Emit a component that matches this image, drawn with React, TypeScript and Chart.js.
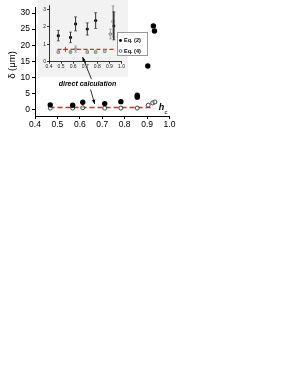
import React, { useEffect, useRef } from "react";
import { Chart, registerables } from "chart.js";
Chart.register(...registerables);

// ---- main plot data ----
const xTicks = [0.4, 0.5, 0.6, 0.7, 0.8, 0.9, 1.0];
const yTicks = [0, 5, 10, 15, 20, 25, 30];
const eq2X = [0.468, 0.568, 0.613, 0.711, 0.783, 0.856, 0.856, 0.903, 0.928, 0.933];
const eq2Y = [1.4, 1.3, 2.2, 1.8, 2.4, 3.8, 4.4, 13.5, 26.0, 24.4];
const eq4X = [0.468, 0.568, 0.613, 0.711, 0.783, 0.856, 0.905, 0.925, 0.935];
const eq4Y = [0.4, 0.4, 0.5, 0.4, 0.4, 0.4, 1.3, 2.0, 2.3];
const directX = [0.465, 0.915];
const directY = [0.6, 0.6];

// ---- inset data ----
const insetXTicks = [0.4, 0.5, 0.6, 0.7, 0.8, 0.9, 1.0];
const insetYTicks = [0, 1, 2, 3];
const insetEq2X = [0.477, 0.578, 0.62, 0.717, 0.786, 0.936];
const insetEq2Y = [1.49, 1.39, 2.16, 1.87, 2.35, 2.05];
const insetEq2Err = [0.3, 0.3, 0.4, 0.35, 0.45, 0.8];
const insetEq4X = [0.477, 0.578, 0.62, 0.717, 0.786, 0.861, 0.908, 0.93];
const insetEq4Y = [0.55, 0.55, 0.72, 0.55, 0.55, 0.6, 1.58, 2.3];
const insetEq4Err = [0.08, 0.08, 0.18, 0.08, 0.08, 0.08, 0.28, 0.9];
const insetDirectX = [0.47, 0.945];
const insetDirectY = [0.7, 0.7];
const insetCrossX = [0.536];
const insetCrossY = [0.7];

const FAMILY = "'Liberation Sans', Arial, sans-serif";

const pts = (xs: number[], ys: number[]) => xs.map((x, i) => ({ x, y: ys[i] }));

function drawArrow(ctx: CanvasRenderingContext2D, x1: number, y1: number, x2: number, y2: number) {
  ctx.beginPath();
  ctx.moveTo(x1, y1);
  ctx.lineTo(x2, y2);
  ctx.stroke();
  const a = Math.atan2(y2 - y1, x2 - x1);
  const L = 4.5, s = 0.38;
  ctx.beginPath();
  ctx.moveTo(x2, y2);
  ctx.lineTo(x2 - L * Math.cos(a - s), y2 - L * Math.sin(a - s));
  ctx.lineTo(x2 - L * Math.cos(a + s), y2 - L * Math.sin(a + s));
  ctx.closePath();
  ctx.fill();
}

const mainDecor = {
  id: "mainDecor",
  beforeDraw(chart: any) {
    const ctx = chart.ctx;
    ctx.save();
    ctx.fillStyle = "#f2f2f2";
    ctx.fillRect(38, 0, 90, 77);
    ctx.restore();
  },
  afterDraw(chart: any) {
    const ctx: CanvasRenderingContext2D = chart.ctx;
    const xs = chart.scales.x, ys = chart.scales.y;
    const px = (v: number) => xs.getPixelForValue(v);
    const py = (v: number) => ys.getPixelForValue(v);
    ctx.save();
    ctx.fillStyle = "#000";
    ctx.font = `9.5px ${FAMILY}`;
    ctx.textAlign = "center";
    ctx.textBaseline = "middle";
    ctx.translate(12, 65);
    ctx.rotate(-Math.PI / 2);
    ctx.fillText("δ (μm)", 0, 0);
    ctx.restore();

    ctx.save();
    ctx.fillStyle = "#000";
    ctx.font = `italic bold 9px ${FAMILY}`;
    ctx.textAlign = "center";
    ctx.textBaseline = "middle";
    ctx.fillText("h", 161.5, 108);
    ctx.font = `6px ${FAMILY}`;
    ctx.fillText("c", 166, 112);

    ctx.font = `italic bold 7px ${FAMILY}`;
    ctx.fillText("direct calculation", px(0.634), py(7.8));
    ctx.strokeStyle = "#000";
    ctx.fillStyle = "#000";
    ctx.lineWidth = 0.8;
    drawArrow(ctx, px(0.652), py(9.4), px(0.612), py(16.3));
    drawArrow(ctx, px(0.648), py(6.2), px(0.666), py(1.7));

    ctx.fillStyle = "#fff";
    ctx.fillRect(117, 32, 31, 24);
    ctx.strokeStyle = "#999";
    ctx.lineWidth = 1;
    ctx.strokeRect(117.5, 32.5, 30, 23);
    ctx.fillStyle = "#000";
    ctx.beginPath();
    ctx.arc(120.5, 40.5, 1.4, 0, Math.PI * 2);
    ctx.fill();
    ctx.strokeStyle = "#444";
    ctx.lineWidth = 0.8;
    ctx.beginPath();
    ctx.arc(120.5, 51, 1.4, 0, Math.PI * 2);
    ctx.stroke();
    ctx.fillStyle = "#000";
    ctx.font = `bold 5.5px ${FAMILY}`;
    ctx.textAlign = "left";
    ctx.fillText("Eq. (2)", 124, 40.5);
    ctx.fillText("Eq. (4)", 124, 51);
    ctx.restore();
  },
};

const insetErr = {
  id: "insetErr",
  afterDatasetsDraw(chart: any) {
    const ctx: CanvasRenderingContext2D = chart.ctx;
    const xs = chart.scales.x, ys = chart.scales.y;
    const draw = (X: number[], Y: number[], E: number[], color: string, w: number) => {
      ctx.strokeStyle = color;
      X.forEach((x, i) => {
        const p = xs.getPixelForValue(x);
        const t = ys.getPixelForValue(Y[i] + E[i]);
        const b = ys.getPixelForValue(Y[i] - E[i]);
        ctx.lineWidth = E[i] > 0.6 ? w * 1.6 : w;
        ctx.beginPath();
        ctx.moveTo(p, t);
        ctx.lineTo(p, b);
        ctx.stroke();
        ctx.lineWidth = 0.7;
        ctx.beginPath();
        ctx.moveTo(p - 1.5, t);
        ctx.lineTo(p + 1.5, t);
        ctx.moveTo(p - 1.5, b);
        ctx.lineTo(p + 1.5, b);
        ctx.stroke();
      });
    };
    ctx.save();
    draw(insetEq4X, insetEq4Y, insetEq4Err, "#999", 0.8);
    draw(insetEq2X, insetEq2Y, insetEq2Err, "#333", 1);
    ctx.restore();
  },
};

export default function App() {
  const mainRef = useRef<HTMLCanvasElement>(null);
  const insetRef = useRef<HTMLCanvasElement>(null);

  useEffect(() => {
    const main = new Chart(mainRef.current as HTMLCanvasElement, {
      type: "scatter",
      data: {
        datasets: [
          {
            label: "direct calculation",
            data: pts(directX, directY),
            showLine: true,
            borderColor: "#e3262b",
            borderDash: [5, 3],
            borderWidth: 1.5,
            pointRadius: 0,
            order: 3,
          } as any,
          {
            label: "Eq. (4)",
            data: pts(eq4X, eq4Y),
            pointRadius: 2,
            borderWidth: 0.9,
            borderColor: "#333",
            backgroundColor: "rgba(255,255,255,0.6)",
            order: 2,
          },
          {
            label: "Eq. (2)",
            data: pts(eq2X, eq2Y),
            pointRadius: 2.7,
            borderWidth: 0,
            backgroundColor: "#000",
            borderColor: "#000",
            order: 1,
          },
        ],
      },
      options: {
        animation: false,
        responsive: false,
        devicePixelRatio: 1,
        layout: { padding: { left: 0, right: 114.5, top: 1, bottom: 0 } },
        plugins: { legend: { display: false }, tooltip: { enabled: false } },
        scales: {
          x: {
            type: "linear",
            min: 0.4,
            max: 1.0,
            afterBuildTicks: (s: any) => {
              s.ticks = xTicks.map((v) => ({ value: v }));
            },
            afterFit: (s: any) => {
              s.height = 24;
            },
            border: { display: true, color: "#000", width: 1 },
            grid: { drawOnChartArea: false, drawTicks: true, tickLength: 3, color: "#000" },
            ticks: {
              font: { family: FAMILY, size: 8.5 },
              color: "#000",
              padding: 1,
              maxRotation: 0,
              autoSkip: false,
              callback: (v: any) => Number(v).toFixed(1),
            },
          },
          y: {
            type: "linear",
            min: -2.07,
            max: 31.86,
            afterBuildTicks: (s: any) => {
              s.ticks = yTicks.map((v) => ({ value: v }));
            },
            afterFit: (s: any) => {
              s.width = 35;
            },
            border: { display: true, color: "#000", width: 1 },
            grid: { drawOnChartArea: false, drawTicks: true, tickLength: 3, color: "#000" },
            ticks: {
              font: { family: FAMILY, size: 8.5 },
              color: "#000",
              padding: 2,
              autoSkip: false,
            },
          },
        },
      },
      plugins: [mainDecor],
    });

    const inset = new Chart(insetRef.current as HTMLCanvasElement, {
      type: "scatter",
      data: {
        datasets: [
          {
            label: "direct",
            data: pts(insetDirectX, insetDirectY),
            showLine: true,
            borderColor: "#e3262b",
            borderDash: [4, 2.5],
            borderWidth: 1.3,
            pointRadius: 0,
            order: 4,
          } as any,
          {
            label: "cross",
            data: pts(insetCrossX, insetCrossY),
            pointStyle: "cross",
            pointRadius: 2.5,
            borderColor: "#e3262b",
            borderWidth: 1,
            order: 3,
          },
          {
            label: "Eq. (4)",
            data: pts(insetEq4X, insetEq4Y),
            pointRadius: 1.4,
            borderWidth: 0.7,
            borderColor: "#555",
            backgroundColor: "rgba(255,255,255,0.7)",
            order: 2,
          },
          {
            label: "Eq. (2)",
            data: pts(insetEq2X, insetEq2Y),
            pointRadius: 1.6,
            borderWidth: 0,
            backgroundColor: "#000",
            order: 1,
          },
        ],
      },
      options: {
        animation: false,
        responsive: false,
        devicePixelRatio: 1,
        layout: { padding: { left: 0, right: 6.5, top: 5, bottom: 0 } },
        plugins: { legend: { display: false }, tooltip: { enabled: false } },
        scales: {
          x: {
            type: "linear",
            min: 0.4,
            max: 1.0,
            afterBuildTicks: (s: any) => {
              s.ticks = insetXTicks.map((v) => ({ value: v }));
            },
            afterFit: (s: any) => {
              s.height = 15.3;
            },
            border: { display: true, color: "#000", width: 0.8 },
            grid: { drawOnChartArea: false, drawTicks: true, tickLength: 2, color: "#000", lineWidth: 0.8 },
            ticks: {
              font: { family: FAMILY, size: 5 },
              color: "#222",
              padding: 0,
              maxRotation: 0,
              autoSkip: false,
              callback: (v: any) => Number(v).toFixed(1),
            },
          },
          y: {
            type: "linear",
            min: 0,
            max: 3.24,
            afterBuildTicks: (s: any) => {
              s.ticks = insetYTicks.map((v) => ({ value: v }));
            },
            afterFit: (s: any) => {
              s.width = 11;
            },
            border: { display: true, color: "#000", width: 0.8 },
            grid: { drawOnChartArea: false, drawTicks: true, tickLength: 2, color: "#000", lineWidth: 0.8 },
            ticks: {
              font: { family: FAMILY, size: 5 },
              color: "#222",
              padding: 1,
              autoSkip: false,
            },
          },
        },
      },
      plugins: [insetErr],
    });

    return () => {
      main.destroy();
      inset.destroy();
    };
  }, []);

  return (
    <div style={{ position: "absolute", left: 0, top: 0, width: 284, height: 378, background: "#fff" }}>
      <canvas
        ref={mainRef}
        width={284}
        height={140}
        style={{ position: "absolute", left: 0, top: 0, width: 284, height: 140 }}
      />
      <canvas
        ref={insetRef}
        width={90}
        height={77}
        style={{ position: "absolute", left: 38, top: 0, width: 90, height: 77 }}
      />
    </div>
  );
}
